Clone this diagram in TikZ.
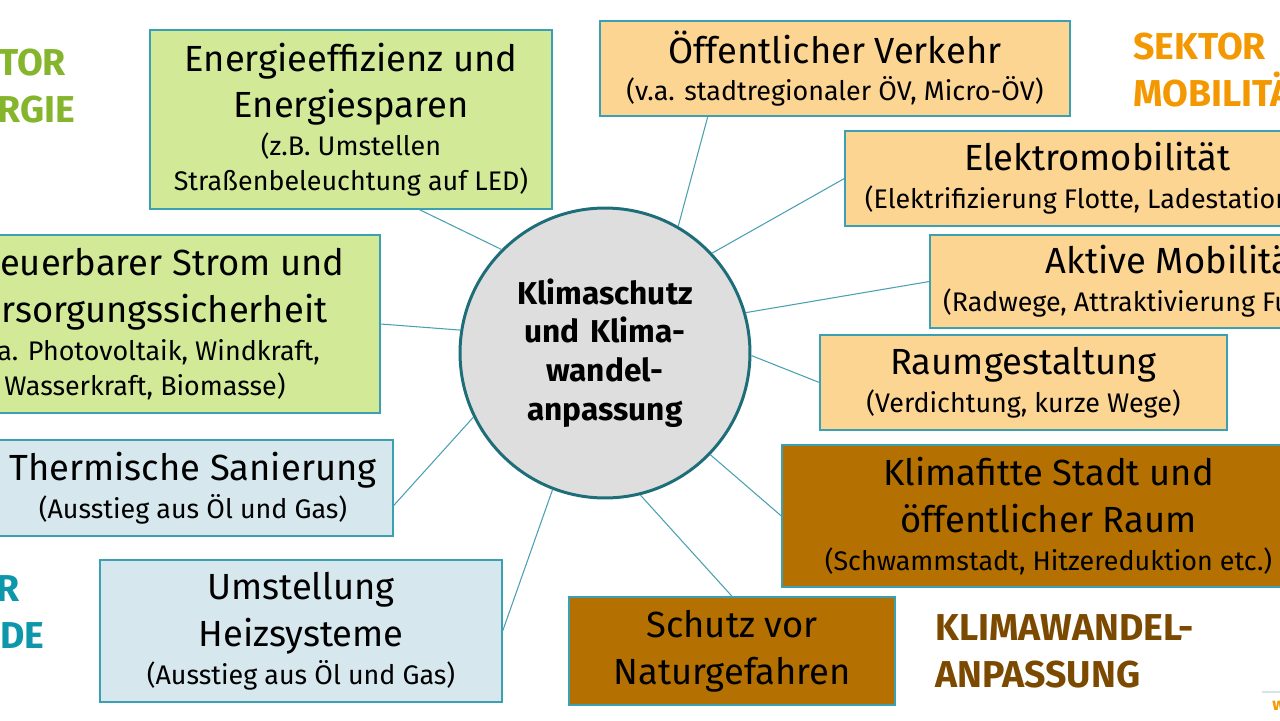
\documentclass[tikz,border=0pt]{standalone}
\usepackage{fontspec}
\setmainfont{Fira Sans}
\usepackage{xcolor}
\usetikzlibrary{positioning}
\usetikzlibrary{calc}
\definecolor{boxline}{HTML}{3AA0B2}
\definecolor{linkcolor}{HTML}{4A9FB0}
\definecolor{energiefill}{HTML}{D2EA98}
\definecolor{gebaeudefill}{HTML}{D6E7EE}
\definecolor{mobilfill}{HTML}{FDD593}
\definecolor{anpassfill}{HTML}{B47000}
\definecolor{kreisfill}{HTML}{DEDEDE}
\definecolor{kreisline}{HTML}{1D6E78}
\definecolor{energiegreen}{HTML}{84B52C}
\definecolor{gebaeudeblue}{HTML}{0E97AB}
\definecolor{mobilorange}{HTML}{F39800}
\definecolor{anpassbrown}{HTML}{7B4A00}
\newcommand{\bigtext}{\fontsize{20.7}{26.6}\selectfont}
\newcommand{\smalltext}{\fontsize{15.3}{19.8}\selectfont}
\newcommand{\sektortext}{\fontsize{21.3}{26.6}\selectfont\bfseries}
% title and subtitle inside a box
\newcommand{\boxtext}[3]{\parbox{#1}{\centering\bigtext #2\par\vspace{1.7pt}\smalltext #3\par}}

\begin{document}
\begin{tikzpicture}[x=0.02cm, y=-0.02cm,
	box/.style={draw=boxline, line width=0.8pt, inner sep=0pt, text=black},
	energiebox/.style={box, fill=energiefill},
	gebaeudebox/.style={box, fill=gebaeudefill},
	mobilbox/.style={box, fill=mobilfill},
	anpassbox/.style={box, fill=anpassfill},
	link/.style={draw=linkcolor, line width=0.6pt},
	sektor/.style={font=\sektortext, align=left, anchor=base west, inner sep=0pt}]
	\useasboundingbox (0,0) rectangle (1280,720);
	%center circle
	\node[circle, draw=kreisline, line width=1.7pt, fill=kreisfill, minimum size=5.8cm, inner sep=0pt, text width=4.6cm, align=center, font=\fontsize{18}{22}\selectfont\bfseries] (kern) at (605,353) {Klimaschutz\\und Klima-\\wandel-\\anpassung};
	%sector energie
	\node[energiebox, minimum width=8.04cm, minimum height=3.58cm] (effizienz) at (351,119.5) {\boxtext{8cm}{Energieeffizienz und\\Energiesparen}{(z.B. Umstellen\\Straßenbeleuchtung auf LED)}};
	\node[energiebox, minimum width=9.4cm, minimum height=3.56cm] (strom) at (145,324) {\boxtext{9.3cm}{Erneuerbarer Strom und\\Versorgungssicherheit}{(v.a. Photovoltaik, Windkraft,\\Wasserkraft, Biomasse)}};
	%sector gebaeude
	\node[gebaeudebox, minimum width=8cm, minimum height=1.92cm] (sanierung) at (193,488) {\boxtext{7.9cm}{Thermische Sanierung}{(Ausstieg aus Öl und Gas)}};
	\node[gebaeudebox, minimum width=8.04cm, minimum height=2.84cm] (heizung) at (301,631) {\boxtext{7.9cm}{Umstellung\\Heizsysteme}{(Ausstieg aus Öl und Gas)}};
	%sector mobilitaet
	\node[mobilbox, minimum width=9.4cm, minimum height=1.9cm] (verkehr) at (835,68.5) {\boxtext{9.3cm}{Öffentlicher Verkehr}{(v.a. stadtregionaler ÖV, Micro-ÖV)}};
	\node[mobilbox, minimum width=10.1cm, minimum height=1.9cm] (emob) at (1097.5,178.5) {\boxtext{10cm}{Elektromobilität}{(Elektrifizierung Flotte, Ladestationen)}};
	\node[mobilbox, minimum width=9.8cm, minimum height=1.86cm] (aktiv) at (1175,281.5) {\boxtext{9.7cm}{Aktive Mobilität}{(Radwege, Attraktivierung Fußverkehr)}};
	\node[mobilbox, minimum width=8.14cm, minimum height=1.9cm] (raum) at (1023.5,382.5) {\boxtext{8cm}{Raumgestaltung}{(Verdichtung, kurze Wege)}};
	%klimawandelanpassung
	\node[anpassbox, minimum width=10.66cm, minimum height=2.84cm] (stadt) at (1048.5,516) {\boxtext{10.5cm}{Klimafitte Stadt und\\öffentlicher Raum}{(Schwammstadt, Hitzereduktion etc.)}};
	\node[anpassbox, minimum width=6.52cm, minimum height=2.16cm] (schutz) at (732,651) {\parbox{6.4cm}{\centering\bigtext Schutz vor\\Naturgefahren\par}};
	%links
	\draw[link] (kern.135) -- ($(effizienz.south west)!0.67!(effizienz.south east)$);
	\draw[link] (kern.171) -- (strom.east);
	\draw[link] (kern.206) -- ($(sanierung.north east)!0.68!(sanierung.south east)$);
	\draw[link] (kern.249) -- (heizung.east);
	\draw[link] (kern.60) -- ($(verkehr.south west)!0.23!(verkehr.south east)$);
	\draw[link] (kern.43) -- (emob.west);
	\draw[link] (kern.16) -- (aktiv.west);
	\draw[link] (kern.359) -- (raum.west);
	\draw[link] (kern.316) -- (stadt.west);
	\draw[link] (kern.284) -- (schutz.north);
	%sector labels
	\node[sektor, text=energiegreen] (labenergie) at (-67,122) {SEKTOR\\ENERGIE};
	\node[sektor, text=gebaeudeblue] (labgebaeude) at (-113,648) {SEKTOR\\GEBÄUDE};
	\node[sektor, text=mobilorange] (labmobil) at (1133,106) {SEKTOR\\MOBILITÄT};
	\node[sektor, text=anpassbrown] (labanpass) at (935,687) {KLIMAWANDEL-\\ANPASSUNG};
	\draw[draw=linkcolor!25, line width=0.6pt] (1262,692) -- (1280,692);
	\node[anchor=base west, inner sep=0pt, text=mobilorange, font=\fontsize{10}{12}\selectfont\bfseries] (web) at (1272,710) {w};
\end{tikzpicture}
\end{document}
